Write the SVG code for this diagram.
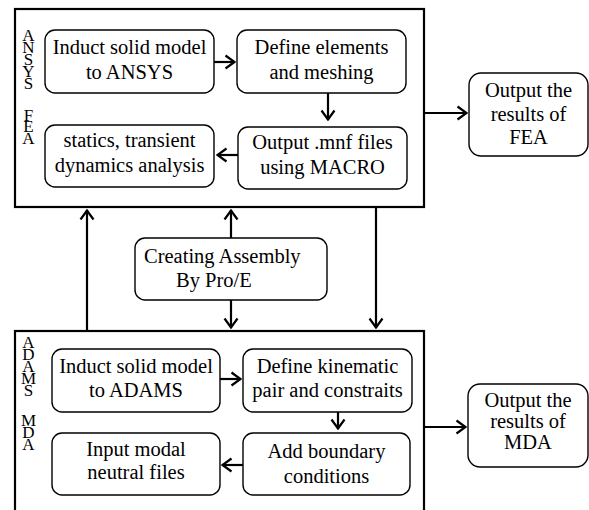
<svg xmlns="http://www.w3.org/2000/svg" width="589" height="510" viewBox="0 0 589 510">
<style>
.frame{fill:none;stroke:#000;stroke-width:2.2}
.node{fill:#fff;stroke:#000;stroke-width:1.4}
.t{font-family:"Liberation Serif","Times New Roman",serif;font-size:20.5px;fill:#000;text-anchor:middle}
.v{font-family:"Liberation Serif","Times New Roman",serif;font-size:17px;fill:#000;writing-mode:vertical-rl;text-orientation:upright;letter-spacing:-7.1px}
.c{fill:none;stroke:#000;stroke-width:2.2}
</style>
<defs>
<marker id="ah" viewBox="0 0 12 16" refX="11" refY="8" markerWidth="12" markerHeight="16" markerUnits="userSpaceOnUse" orient="auto">
<path d="M1.5,1.5 L10.5,8 L1.5,14.5" fill="none" stroke="#000" stroke-width="2.2"/>
</marker>
</defs>
<rect width="589" height="510" fill="#fff"/>
<g id="ansys-fea">
<rect class="frame" x="15" y="9" width="409" height="198"/>
<text class="v" x="28.5" y="26">ANSYS</text>
<text class="v" x="28.5" y="105.5">FEA</text>
</g>
<g id="adams-mda">
<rect class="frame" x="15" y="331" width="409" height="200"/>
<text class="v" x="28.5" y="333">ADAMS</text>
<text class="v" x="28.5" y="411">MDA</text>
</g>
<g id="n1">
<rect class="node" x="45" y="30" width="169" height="63" rx="10"/>
<text class="t" x="129.5" y="54">Induct solid model</text>
<text class="t" x="129.5" y="79">to ANSYS</text>
</g>
<g id="n2">
<rect class="node" x="237" y="30" width="169" height="63" rx="10"/>
<text class="t" x="321.5" y="54">Define elements</text>
<text class="t" x="321.5" y="79">and meshing</text>
</g>
<g id="n3">
<rect class="node" x="238" y="127" width="169" height="62" rx="10"/>
<text class="t" x="322.5" y="149">Output .mnf files</text>
<text class="t" x="322.5" y="174">using MACRO</text>
</g>
<g id="n4">
<rect class="node" x="45" y="125" width="169" height="62" rx="10"/>
<text class="t" x="129.5" y="147">statics, transient</text>
<text class="t" x="129.5" y="172">dynamics analysis</text>
</g>
<g id="fea-out">
<rect class="node" x="469" y="73" width="119" height="83" rx="12"/>
<text class="t" x="528.5" y="97">Output the</text>
<text class="t" x="528.5" y="120.5">results of</text>
<text class="t" x="528.5" y="144">FEA</text>
</g>
<g id="proe">
<rect class="node" x="135" y="238" width="192" height="62" rx="10"/>
<text class="t" x="144" y="263" style="text-anchor:start">Creating Assembly</text>
<text class="t" x="176" y="287" style="text-anchor:start">By Pro/E</text>
</g>
<g id="n5">
<rect class="node" x="52" y="349" width="168" height="63" rx="10"/>
<text class="t" x="136" y="373">Induct solid model</text>
<text class="t" x="136" y="397">to ADAMS</text>
</g>
<g id="n6">
<rect class="node" x="243" y="349" width="169" height="63" rx="10"/>
<text class="t" x="327.5" y="373">Define kinematic</text>
<text class="t" x="327.5" y="397">pair and constraits</text>
</g>
<g id="n7">
<rect class="node" x="243" y="433" width="167" height="62" rx="10"/>
<text class="t" x="326.5" y="458">Add boundary</text>
<text class="t" x="326.5" y="483">conditions</text>
</g>
<g id="n8">
<rect class="node" x="52" y="433" width="168" height="62" rx="10"/>
<text class="t" x="136" y="456">Input modal</text>
<text class="t" x="136" y="479">neutral files</text>
</g>
<g id="mda-out">
<rect class="node" x="468" y="384" width="120" height="83" rx="12"/>
<text class="t" x="528" y="407">Output the</text>
<text class="t" x="528" y="427.5">results of</text>
<text class="t" x="528" y="449">MDA</text>
</g>
<g id="connectors">
<line class="c" x1="214" y1="62" x2="235" y2="62" marker-end="url(#ah)"/>
<line class="c" x1="328" y1="93" x2="328" y2="120" marker-end="url(#ah)"/>
<line class="c" x1="238" y1="155" x2="217" y2="155" marker-end="url(#ah)"/>
<line class="c" x1="424" y1="113" x2="467" y2="113" marker-end="url(#ah)"/>
<line class="c" x1="87" y1="331" x2="87" y2="210" marker-end="url(#ah)"/>
<line class="c" x1="231" y1="238" x2="231" y2="210" marker-end="url(#ah)"/>
<line class="c" x1="231" y1="300" x2="231" y2="328" marker-end="url(#ah)"/>
<line class="c" x1="376" y1="207" x2="376" y2="328" marker-end="url(#ah)"/>
<line class="c" x1="220" y1="379" x2="241" y2="379" marker-end="url(#ah)"/>
<line class="c" x1="338" y1="412" x2="338" y2="429" marker-end="url(#ah)"/>
<line class="c" x1="243" y1="465" x2="222" y2="465" marker-end="url(#ah)"/>
<line class="c" x1="424" y1="427" x2="466" y2="427" marker-end="url(#ah)"/>
</g>
</svg>
